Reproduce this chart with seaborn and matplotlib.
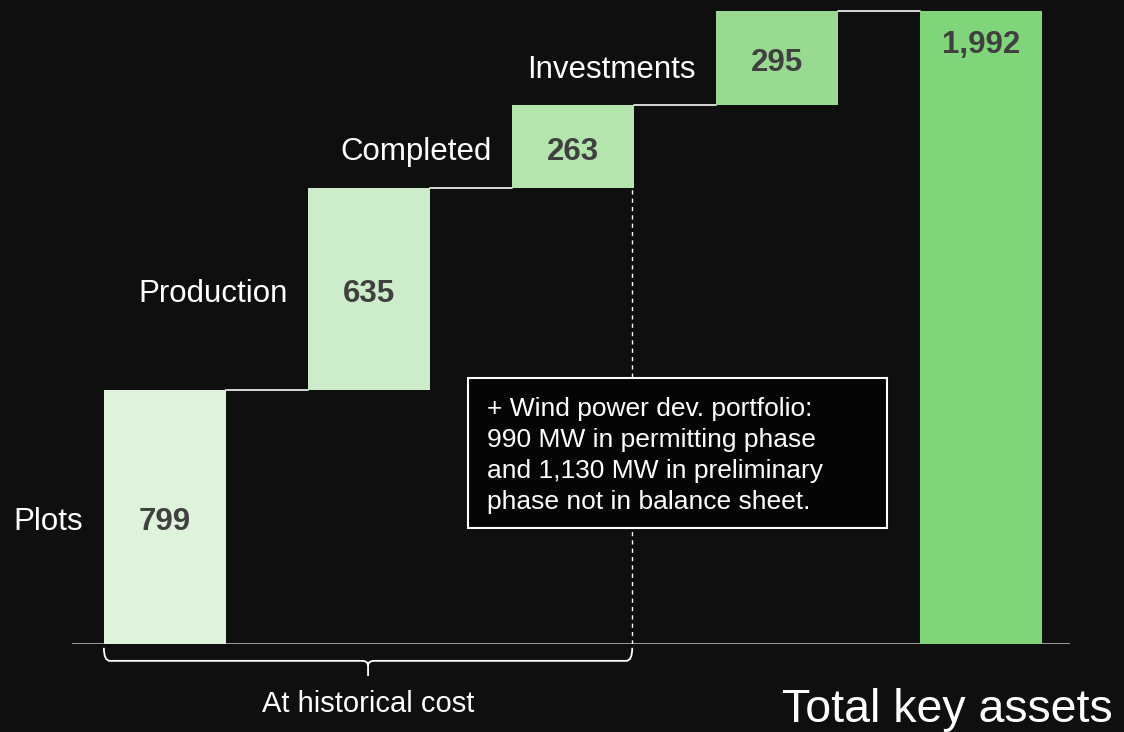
import matplotlib
matplotlib.use("Agg")
import matplotlib.pyplot as plt
from matplotlib.path import Path
from matplotlib.patches import PathPatch, Rectangle
import seaborn as sns
import numpy as np

categories = ["Plots", "Production", "Completed", "Investments", "Total key assets"]
values = [799, 635, 263, 295, 1992]
colors = ["#dff3dc", "#cdedca", "#b3e5ad", "#98db90", "#80d479"]
note = ("+ Wind power dev. portfolio:\n990 MW in permitting phase\n"
        "and 1,130 MW in preliminary\nphase not in balance sheet.")

BG = "#0f0f0f"
sns.set_style("dark")
plt.rcParams["font.family"] = ["Liberation Sans", "DejaVu Sans"]

# waterfall bottoms: steps stack up, total starts at 0
steps = np.array(values[:-1])
bottoms = list(np.concatenate([[0], np.cumsum(steps)[:-1]])) + [0]
tops = [b + v for b, v in zip(bottoms, values)]

fig = plt.figure(figsize=(11.24, 7.32), dpi=100, facecolor=BG)
ax = fig.add_axes([0.0641, 0.1202, 0.8879, 0.8683])
ax.set_facecolor(BG)

sns.barplot(x=categories, y=values, hue=categories, palette=colors, width=0.6,
            saturation=1, linewidth=0, legend=False, ax=ax, zorder=2)
for patch, b in zip(ax.patches, bottoms):
    patch.set_y(b)

ax.set_xlim(-0.456, 4.436)
ax.set_ylim(0, 2000)
ax.axhline(0, color="#a6a6a6", lw=1.3, zorder=1)

# connectors between bars
for i in range(len(values) - 1):
    ax.plot([i + 0.3, i + 0.7], [tops[i], tops[i]], color="#e6e6e6", lw=1.3, zorder=1)

# dashed split after "Completed"
ax.plot([2.29, 2.29], [0, bottoms[2]], color="white", lw=1, ls=(0, (3, 3)), zorder=1)

# labels
for i, (cat, v) in enumerate(zip(categories, values)):
    if i < len(values) - 1:
        mid = bottoms[i] + v / 2 - 16
        lab_y = mid - 22 if i == 3 else mid
        ax.text(i - 0.4, lab_y, cat, ha="right", va="center", color="white", fontsize=22.5)
        ax.text(i, mid, f"{v:,}", ha="center", va="center", color="#404040",
                fontsize=22.5, fontweight="bold")
    else:
        ax.text(i, tops[i] - 106, f"{v:,}", ha="center", va="center", color="#404040",
                fontsize=22.5, fontweight="bold")
ax.text(3.833, -245, categories[-1], ha="center", va="baseline", color="white", fontsize=33.5)

# note box
ax.add_patch(Rectangle((1.485, 365), 2.054, 472, facecolor="#050505", edgecolor="white",
                       lw=1.5, zorder=3))
ax.text(1.578, 776, note, ha="left", va="top", color="white", fontsize=19,
        linespacing=1.36, zorder=4)

# bracket under the first three bars
xl, xr, xm = -0.3, 2.29, 0.995
y0, yh, yt = -12, -53, -101
dx, dy = 0.03, 16
verts = [(xl, y0), (xl, yh), (xl + dx, yh), (xm - dx, yh), (xm, yh), (xm, yh - dy), (xm, yt),
         (xr, y0), (xr, yh), (xr - dx, yh), (xm + dx, yh), (xm, yh), (xm, yh - dy)]
codes = [Path.MOVETO, Path.CURVE3, Path.CURVE3, Path.LINETO, Path.CURVE3, Path.CURVE3, Path.LINETO,
         Path.MOVETO, Path.CURVE3, Path.CURVE3, Path.LINETO, Path.CURVE3, Path.CURVE3]
ax.add_patch(PathPatch(Path(verts, codes), fill=False, edgecolor="white", lw=1.3, clip_on=False))
ax.text(xm, -214, "At historical cost", ha="center", va="baseline", color="white", fontsize=21)

ax.set_xticks([])
ax.set_yticks([])
ax.set_xlabel("")
ax.set_ylabel("")
for s in ax.spines.values():
    s.set_visible(False)

fig.savefig("out.png", dpi=100, facecolor=BG)
